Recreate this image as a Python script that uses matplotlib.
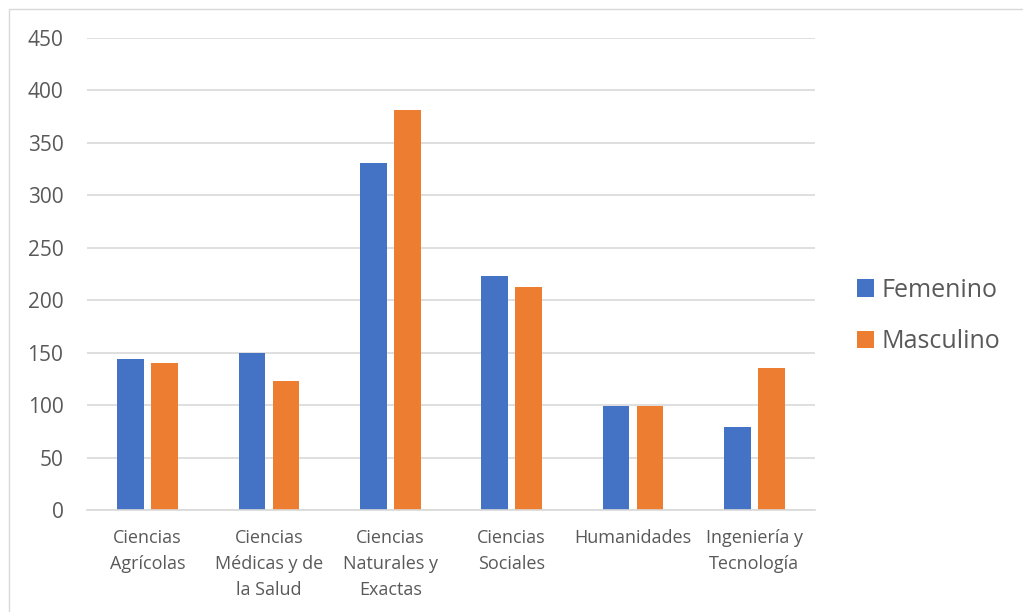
import numpy as np
import matplotlib.pyplot as plt
from matplotlib.patches import Rectangle

categorias = ["Ciencias\nAgrícolas", "Ciencias\nMédicas y de\nla Salud", "Ciencias\nNaturales y\nExactas",
              "Ciencias\nSociales", "Humanidades", "Ingeniería y\nTecnología"]
femenino = [144, 150, 331, 223, 99, 79]
masculino = [140, 123, 381, 213, 99, 135]
yticks = [0, 50, 100, 150, 200, 250, 300, 350, 400, 450]

plt.rcParams['font.family'] = ['Open Sans', 'DejaVu Sans']

fig = plt.figure(figsize=(10.23, 6.12), dpi=100)
ax = fig.add_axes([87/1023, 1 - 510/612, (815-87)/1023, (510-38)/612])

x = np.arange(len(categorias))
w = 0.22
ax.bar(x - 0.14, femenino, w, color='#4472C4', label='Femenino')
ax.bar(x + 0.14, masculino, w, color='#ED7D31', label='Masculino')

ax.set_xlim(-0.5, len(categorias) - 0.5)
ax.set_ylim(0, 450)
ax.set_yticks(yticks)
ax.set_xticks(x)
ax.set_xticklabels(categorias, fontsize=13, color='#595959', linespacing=1.55)
ax.tick_params(axis='y', labelsize=15, labelcolor='#595959', length=0, pad=17)
ax.tick_params(axis='x', length=0, pad=14)
ax.grid(axis='y', color='#D9D9D9', linewidth=1.2)
ax.set_axisbelow(True)
for s in ['top', 'right', 'left']:
    ax.spines[s].set_visible(False)
ax.spines['bottom'].set_color('#D9D9D9')
ax.spines['bottom'].set_linewidth(1.2)

ax.legend(loc='center left', bbox_to_anchor=(834/1023, 1 - 316/612), bbox_transform=fig.transFigure,
          frameon=False, fontsize=18, labelcolor='#595959', handlelength=0.7, handleheight=0.7,
          handletextpad=0.3, labelspacing=1.05)

fig.patches.append(Rectangle((9/1023, -0.01), 1, 1 - 9/612 + 0.01, transform=fig.transFigure,
                             fill=False, edgecolor='#D9D9D9', linewidth=1))

fig.savefig('out.png', dpi=100)
